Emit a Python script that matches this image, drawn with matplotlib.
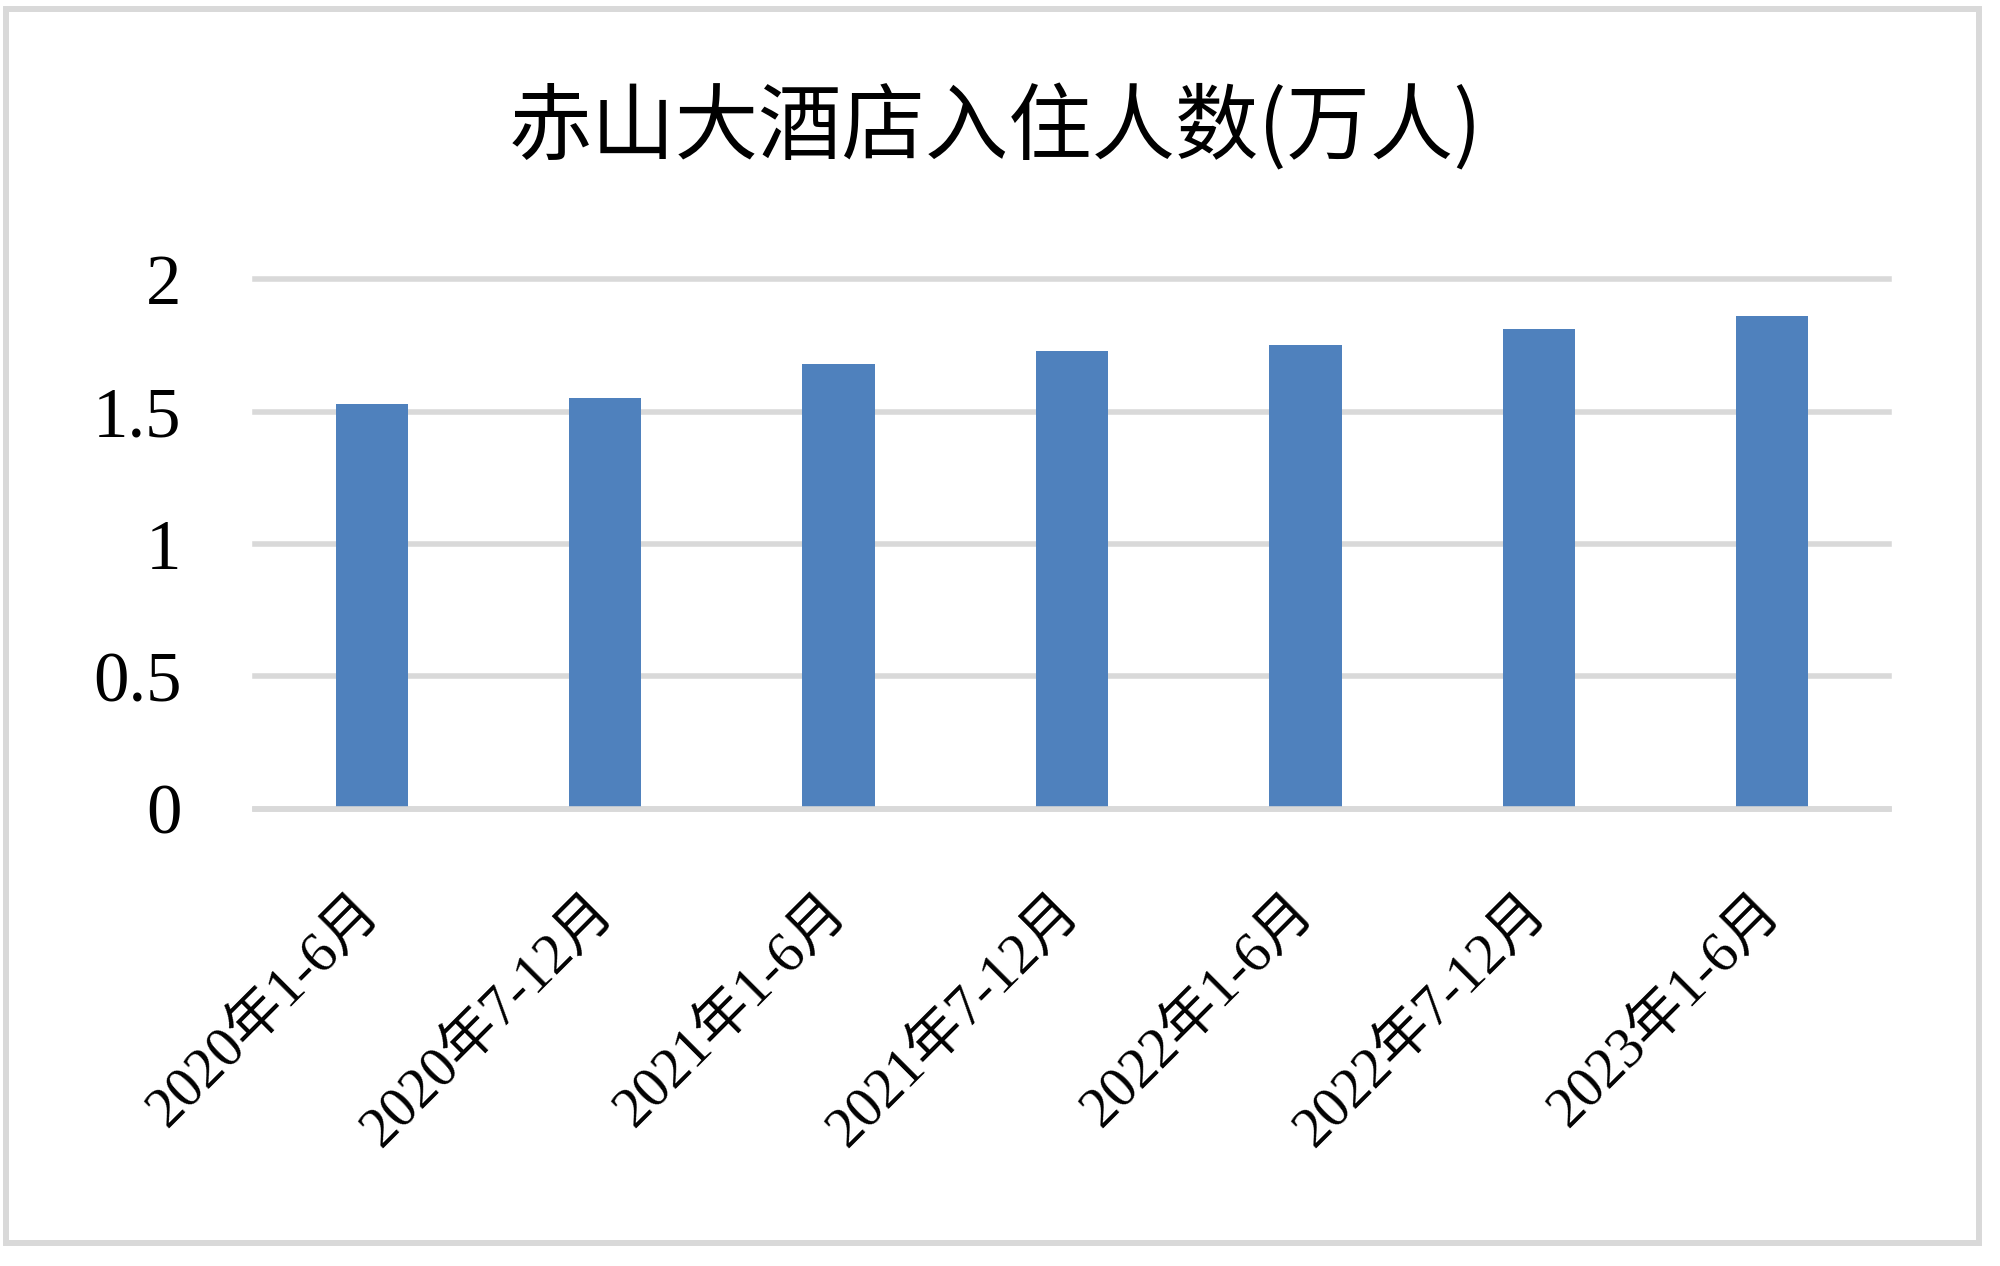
"""
赤山大酒店入住人数柱状图（万人）。
"""
import matplotlib
matplotlib.use("Agg")
import matplotlib.pyplot as plt
from matplotlib.patches import Rectangle

plt.rcParams["font.family"] = ["Liberation Serif", "Noto Sans CJK SC"]

TITLE = "赤山大酒店入住人数(万人)"
periods = ["2020年1-6月", "2020年7-12月", "2021年1-6月", "2021年7-12月",
           "2022年1-6月", "2022年7-12月", "2023年1-6月"]
guests = [1.53, 1.55, 1.68, 1.73, 1.75, 1.81, 1.86]
y_ticks = [0, 0.5, 1, 1.5, 2]
y_tick_labels = ["0", "0.5", "1", "1.5", "2"]

BAR_COLOR = "#4F81BD"
GRID_COLOR = "#D9D9D9"

fig = plt.figure(figsize=(20, 12.66), dpi=100)
ax = fig.add_axes([0.1275, 0.361, 0.817, 0.4186])

x = range(len(periods))
ax.bar(x, guests, width=0.31, color=BAR_COLOR, zorder=1)

ax.set_xlim(-0.5, len(periods) - 0.5)
ax.set_ylim(0, 2)
ax.set_yticks(y_ticks)
ax.set_yticklabels(y_tick_labels, fontsize=51)
ax.set_xticks(list(x))
ax.set_xticklabels(periods, fontsize=41, rotation=45, ha="right",
                   va="center", rotation_mode="anchor")
ax.tick_params(axis="y", length=0, pad=53)
ax.tick_params(axis="x", length=0, pad=68)

# 网格线
ax.set_axisbelow(True)
ax.grid(axis="y", color=GRID_COLOR, linewidth=4)
for gl in ax.get_ygridlines():
    gl.set_clip_on(False)

for side in ["top", "left", "right"]:
    ax.spines[side].set_visible(False)
ax.spines["bottom"].set_color(GRID_COLOR)
ax.spines["bottom"].set_linewidth(4)

fig.text(0.4975, 0.898, TITLE, fontsize=60, ha="center", va="center",
         family=["Noto Sans CJK SC"])

# 外边框
fig.patches.append(Rectangle((0.003, 0.018), 0.9865, 0.975,
                             transform=fig.transFigure, fill=False,
                             edgecolor=GRID_COLOR, linewidth=4.3))

fig.savefig("out.png", dpi=100, facecolor="white")
plt.close(fig)
